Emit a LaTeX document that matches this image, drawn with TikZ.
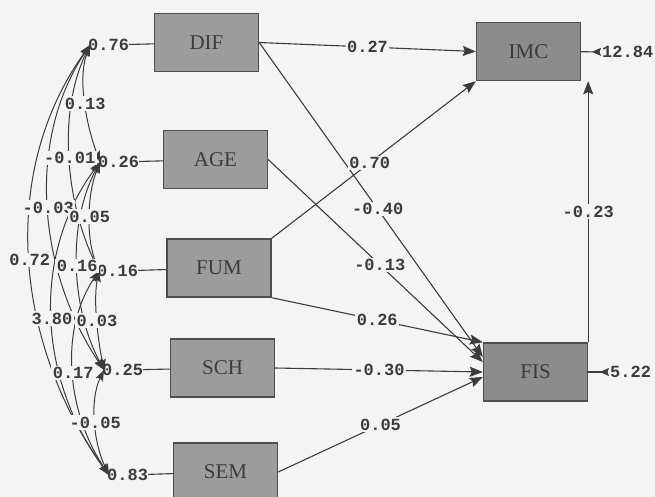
\documentclass[tikz,border=0pt]{standalone}
\usepackage{fontspec}
\setmainfont{Liberation Serif}
\newfontfamily\monof{Liberation Mono}
\usetikzlibrary{arrows.meta,calc}
\definecolor{bg}{HTML}{F4F4F4}
\definecolor{ink}{HTML}{3C3C3C}
\definecolor{boxa}{HTML}{9C9C9C}
\definecolor{boxb}{HTML}{8C8C8C}
\definecolor{edgec}{HTML}{4E4E4E}
\begin{document}
\begin{tikzpicture}[x=1pt,y=-1pt,
 var/.style={draw=edgec,line width=1.4pt,fill=boxa,minimum width=104pt,minimum height=58pt,inner sep=0pt,font=\fontsize{21}{21}\selectfont,text=ink},
 endo/.style={var,fill=boxb},
 num/.style={font=\monof\bfseries\fontsize{17}{17}\selectfont,text=ink,inner sep=0pt},
 lab/.style={num,fill=bg,inner sep=1.5pt},
 conn/.style={draw=ink,line width=1.1pt,-{Stealth[length=13pt,width=10pt,inset=2pt]}},
 cov/.style={draw=ink,line width=1pt,{Stealth[length=11pt,width=8pt,inset=2pt]}-{Stealth[length=11pt,width=8pt,inset=2pt]}},
 resid/.style={draw=ink,line width=1.1pt,-{Stealth[length=9pt,width=8pt,inset=1.5pt,reversed]}},
 plainline/.style={draw=ink,line width=1.1pt}
]
\fill[bg] (0,0) rectangle (655,497);
\useasboundingbox (0,0) rectangle (655,497);
\clip (0,0) rectangle (655,497);

% boxes
\node[var] (DIF) at (206.5,42.5) {DIF};
\node[var] (AGE) at (215.5,159.5) {AGE};
\node[var] (FUM) at (219,268) {FUM};
\node[var] (SCH) at (222.5,368) {SCH};
\node[var] (SEM) at (225.5,472) {SEM};
\node[endo] (IMC) at (528.5,51.5) {IMC};
\node[endo] (FIS) at (535.5,372) {FIS};

% exogenous variances
\node[num,anchor=west] (e1) at (88,45) {0.76};
\node[num,anchor=west] (e2) at (98,162) {0.26};
\node[num,anchor=west] (e3) at (97,271) {0.16};
\node[num,anchor=west] (e4) at (102,370) {0.25};
\node[num,anchor=west] (e5) at (107,475) {0.83};
\draw[plainline] (e1) -- (DIF);
\draw[plainline] (e2) -- (AGE);
\draw[plainline] (e3) -- (FUM);
\draw[plainline] (e4) -- (SCH);
\draw[plainline] (e5) -- (SEM);

% covariance arcs
\foreach \a/\b/\k/\s in {e1/e2/13/35, e1/e3/33/68, e1/e4/65/97, e1/e5/93/129,
  e2/e3/13/33, e2/e4/33/62, e2/e5/70/94, e3/e4/6/30, e3/e5/41/61, e4/e5/15/31}{
  \draw[cov] ([xshift=2pt]\a.west) .. controls +(-\k,\s) and +(-\k,-\s) .. ([xshift=2pt]\b.west);
}
\foreach \a/\b/\k/\s/\lbl in {e1/e2/13/35/0.13, e1/e3/33/68/-0.01, e1/e4/65/97/-0.03, e1/e5/93/129/0.72,
  e2/e3/13/33/0.05, e2/e4/33/62/0.16, e2/e5/70/94/3.80, e3/e4/6/30/0.03, e3/e5/41/61/0.17, e4/e5/15/31/-0.05}{
  \path ([xshift=2pt]\a.west) .. controls +(-\k,\s) and +(-\k,-\s) .. node[lab]{\lbl} ([xshift=2pt]\b.west);
}

% structural paths
\draw[conn] (DIF.east) -- node[lab,pos=0.5]{0.27} (IMC.west);
\draw[conn] (DIF.east) -- node[lab,pos=0.53]{-0.40} ($(FIS.west)+(0,-15)$);
\draw[conn] (AGE.east) -- node[lab,pos=0.52]{-0.13} ($(FIS.west)+(0,-10)$);
\draw[conn] (FUM.north east) -- node[lab,pos=0.48]{0.70} (IMC.south west);
\draw[conn] (FUM.south east) -- node[lab]{0.26} (FIS.north west);
\draw[conn] (SCH.east) -- node[lab]{-0.30} (FIS.west);
\draw[conn] (SEM.east) -- node[lab]{0.05} ($(FIS.west)+(0,5)$);
\draw[conn] (FIS.north east) -- node[lab]{-0.23} (FIS.north east |- IMC.south);

% residual variances
\node[num,anchor=west] (r1) at (602,52) {12.84};
\node[num,anchor=west] (r2) at (610,372) {5.22};
\draw[resid,shorten >=1pt] (IMC) -- (r1);
\draw[resid,shorten >=1pt] (FIS) -- (r2);
\end{tikzpicture}
\end{document}
